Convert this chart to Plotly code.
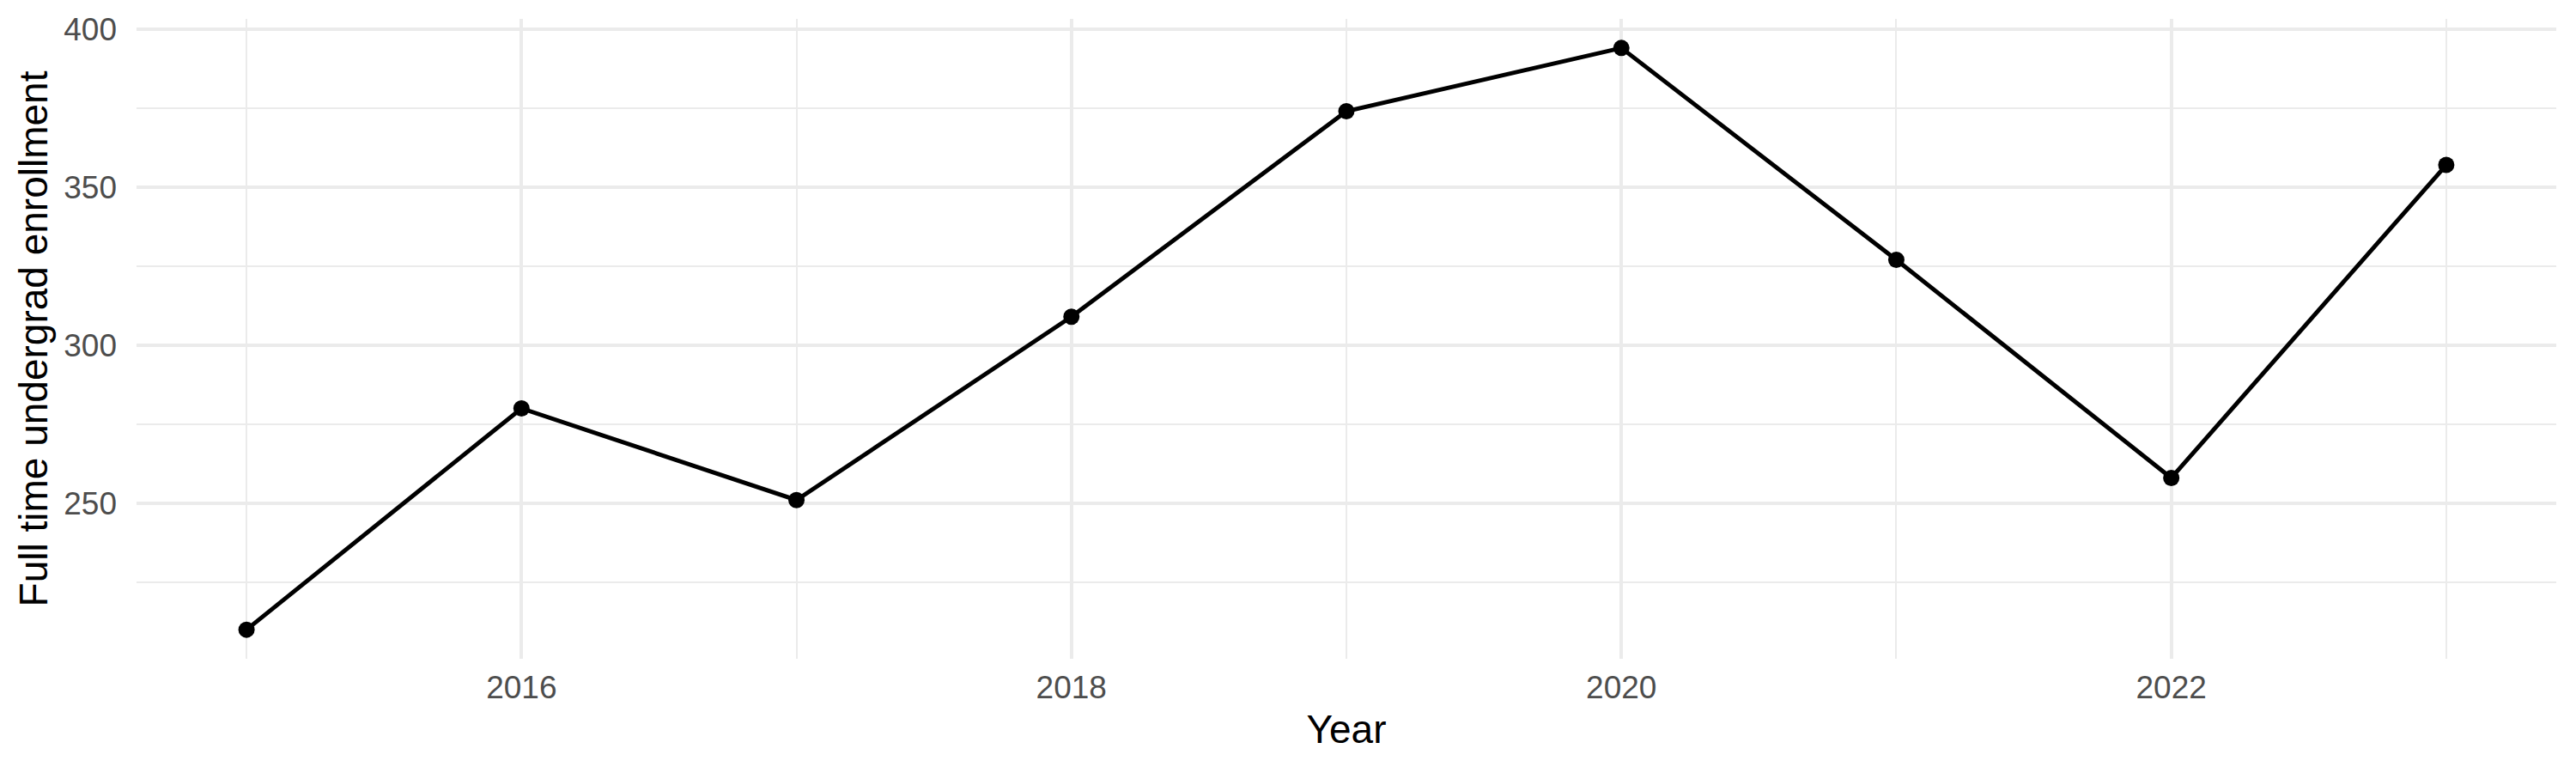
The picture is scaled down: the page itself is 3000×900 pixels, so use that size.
import plotly.graph_objects as go

# enrollment by year
years = [2015, 2016, 2017, 2018, 2019, 2020, 2021, 2022, 2023]
enrollment = [210, 280, 251, 309, 374, 394, 327, 258, 357]

x_major = [2016, 2018, 2020, 2022]
x_minor = [2015, 2017, 2019, 2021, 2023]
y_major = [250, 300, 350, 400]
y_minor = [225, 275, 325, 375]

grid = "#EBEBEB"
font_family = "Liberation Sans, Arial, sans-serif"

# ggplot style 5% padding on both axes
x_pad = (max(years) - min(years)) * 0.05
y_pad = (max(enrollment) - min(enrollment)) * 0.05

fig = go.Figure()
fig.add_trace(go.Scatter(
    x=years, y=enrollment,
    mode="lines+markers",
    line=dict(color="black", width=5),
    marker=dict(color="black", size=19),
    showlegend=False,
))

# page body adds 8px offset, margins take that into account
fig.update_layout(
    width=3000, height=900,
    margin=dict(l=151, r=31, t=14, b=141),
    paper_bgcolor="white", plot_bgcolor="white",
    font=dict(family=font_family, color="black"),
)

fig.update_xaxes(
    range=[min(years) - x_pad, max(years) + x_pad],
    tickmode="array", tickvals=x_major,
    showgrid=True, gridcolor=grid, gridwidth=4,
    minor=dict(tickmode="array", tickvals=x_minor, showgrid=True, gridcolor=grid, gridwidth=2),
    zeroline=False, showline=False, ticks="",
    automargin=False,
    ticklabelstandoff=8,
    tickfont=dict(size=37, color="#4D4D4D"),
    title=dict(text="Year", font=dict(size=46, color="black"), standoff=12),
)

fig.update_yaxes(
    range=[min(enrollment) - y_pad, max(enrollment) + y_pad],
    tickmode="array", tickvals=y_major,
    showgrid=True, gridcolor=grid, gridwidth=4,
    minor=dict(tickmode="array", tickvals=y_minor, showgrid=True, gridcolor=grid, gridwidth=2),
    zeroline=False, showline=False, ticks="",
    automargin=False,
    ticklabelstandoff=22,
    tickfont=dict(size=37, color="#4D4D4D"),
    title=dict(text="Full time undergrad enrollment", font=dict(size=46, color="black"), standoff=4),
)

fig.write_html("out.html")
